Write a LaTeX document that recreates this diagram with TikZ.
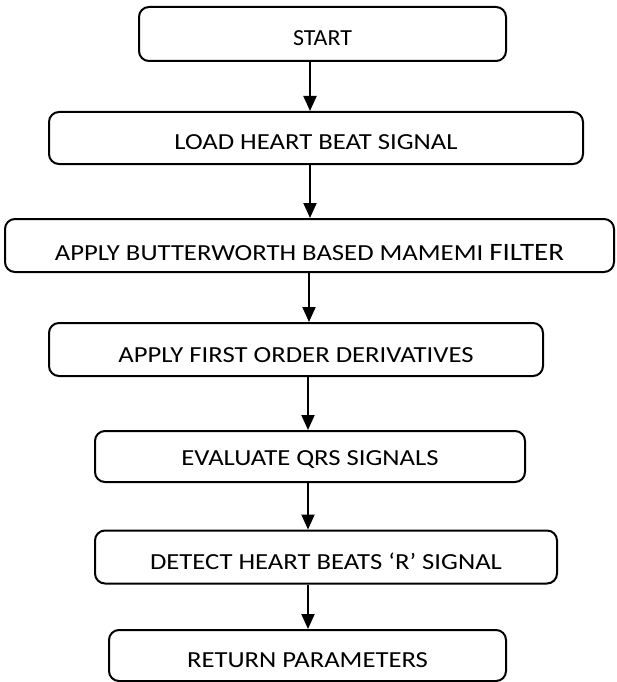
\documentclass[tikz,border=0pt]{standalone}
\usepackage{fontspec}
\usepackage{graphicx}
\setmainfont{Carlito}
\usetikzlibrary{arrows.meta}
\newcommand{\boxtext}[3]{\raisebox{-#1}[\height][\depth]{\scalebox{#2}[1]{#3}}}
\tikzset{
  stepbox/.style={draw=black, line width=2pt, rounded corners=10pt, inner sep=0pt,
    font=\fontsize{23}{27}\selectfont, text=black},
  flowarrow/.style={draw=black, line width=2pt, -{Triangle[length=15pt,width=13pt]}}
}
\begin{document}
\begin{tikzpicture}[x=1pt,y=-1pt]
\useasboundingbox (0,0) rectangle (616,682);
\node[stepbox, minimum width=367pt, minimum height=54pt] (start) at (322.5,34) {\boxtext{4pt}{1.04}{START}};
\node[stepbox, minimum width=534pt, minimum height=52pt] (load) at (316,138) {\boxtext{4pt}{1.16}{LOAD HEART BEAT SIGNAL}};
\node[stepbox, minimum width=609pt, minimum height=53pt] (butter) at (309.5,245.5) {\boxtext{7pt}{1.16}{APPLY BUTTERWORTH BASED MAMEMI {\fontsize{25}{29}\selectfont FILTER}}};
\node[stepbox, minimum width=494pt, minimum height=53pt] (deriv) at (296,349.5) {\boxtext{6pt}{1.16}{APPLY FIRST ORDER DERIVATIVES}};
\node[stepbox, minimum width=430pt, minimum height=51pt] (qrs) at (310,456.5) {\boxtext{3pt}{1.16}{EVALUATE QRS SIGNALS}};
\node[stepbox, minimum width=462pt, minimum height=53pt] (detect) at (326,557) {\boxtext{4pt}{1.16}{DETECT HEART BEATS ‘R’ SIGNAL}};
\node[stepbox, minimum width=397pt, minimum height=51pt] (ret) at (307.5,655.5) {\boxtext{5pt}{1.16}{RETURN PARAMETERS}};
\coordinate (ax1) at (310,0);
\coordinate (ax2) at (309,0);
\coordinate (ax3) at (308,0);
\draw[flowarrow] (start.south -| ax1) -- (load.north -| ax1);
\draw[flowarrow] (load.south -| ax1) -- (butter.north -| ax1);
\draw[flowarrow] (butter.south -| ax2) -- (deriv.north -| ax2);
\draw[flowarrow] (deriv.south -| ax3) -- (qrs.north -| ax3);
\draw[flowarrow] (qrs.south -| ax3) -- (detect.north -| ax3);
\draw[flowarrow] (detect.south -| ax3) -- (ret.north -| ax3);
\end{tikzpicture}
\end{document}
